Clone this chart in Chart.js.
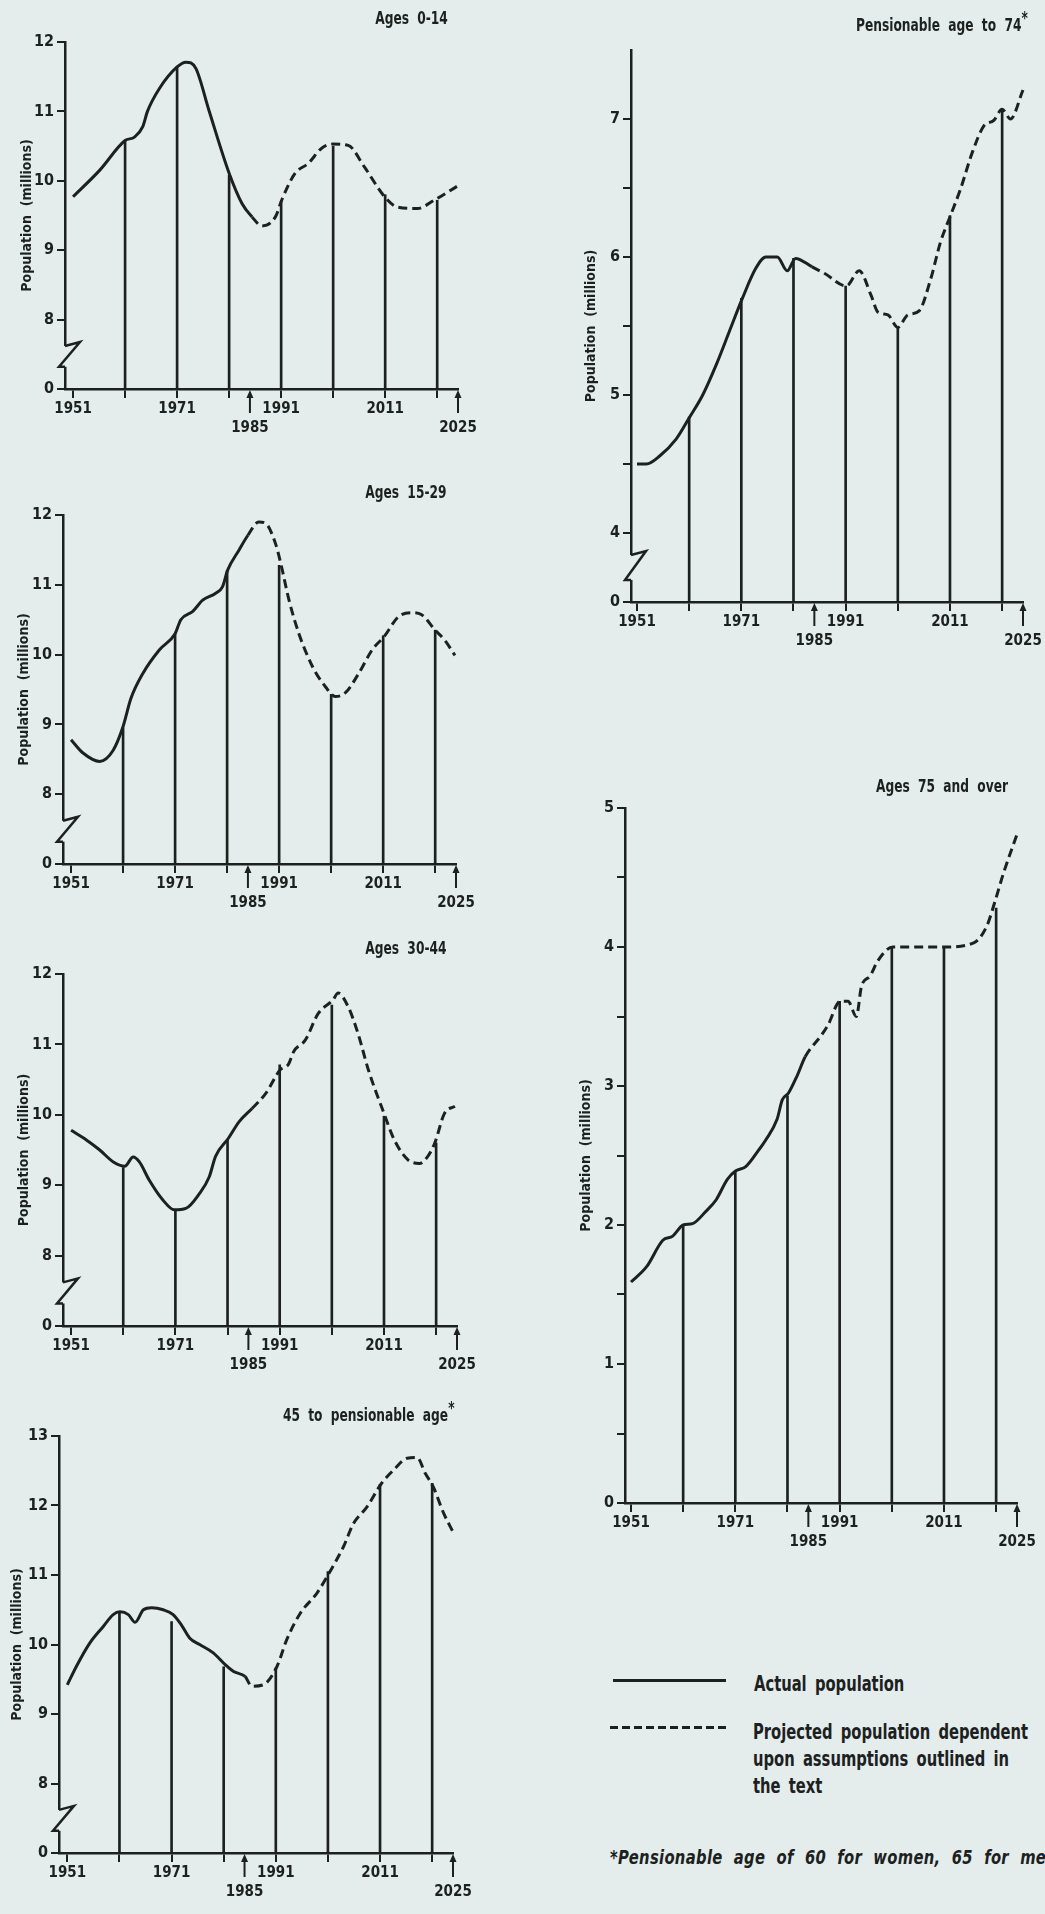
<!DOCTYPE html>
<html>
<head>
<meta charset="utf-8">
<script src="https://cdn.jsdelivr.net/npm/chart.js@4.4.1/dist/chart.umd.min.js"></script>
<style>
  html, body { margin: 0; padding: 0; }
  body {
    width: 1045px; height: 1914px; overflow: hidden; position: relative;
    background: #e4edeb; color: #1c211f;
    font-family: 'Liberation Sans Narrow', 'DejaVu Sans Condensed', 'Roboto Condensed', 'Liberation Sans', sans-serif;
    font-weight: bold;
  }
  canvas { position: absolute; }
  .ttl { position: absolute; font-size: 17px; line-height: 20px; word-spacing: 5px; white-space: nowrap; text-align: right; transform: scaleX(0.8); transform-origin: right center; }
  .ttl sup { font-size: 17px; line-height: 0; }
  .leg { position: absolute; font-size: 21px; line-height: 27px; word-spacing: 4px; white-space: nowrap; transform: scaleX(0.78); transform-origin: left center; }
  .note { position: absolute; font-size: 20px; line-height: 24px; font-style: italic; word-spacing: 7px; letter-spacing: 0.4px; white-space: nowrap; transform: scaleX(0.82); transform-origin: left center; }
</style>
</head>
<body>

<canvas id="p1" width="483" height="423" style="left:0px;top:22px"></canvas>
<canvas id="p2" width="481" height="425" style="left:0px;top:495px"></canvas>
<canvas id="p3" width="482" height="428" style="left:0px;top:954px"></canvas>
<canvas id="p4" width="478" height="493" style="left:0px;top:1416px"></canvas>
<canvas id="p5" width="488" height="628" style="left:560px;top:30px"></canvas>
<canvas id="p6" width="482" height="771" style="left:560px;top:788px"></canvas>

<div class="ttl" style="right:597px;top:8px">Ages 0-14</div>
<div class="ttl" style="right:598px;top:482px">Ages 15-29</div>
<div class="ttl" style="right:598px;top:938px">Ages 30-44</div>
<div class="ttl" style="right:590px;top:1405px">45 to pensionable age<sup>*</sup></div>
<div class="ttl" style="right:17px;top:15px">Pensionable age to 74<sup>*</sup></div>
<div class="ttl" style="right:37px;top:776px">Ages 75 and over</div>

<div style="position:absolute;left:613px;top:1679px;width:113px;height:3px;background:#1c211f"></div>
<div class="leg" style="left:754px;top:1671px">Actual population</div>
<div style="position:absolute;left:610px;top:1726px;width:116px;height:3px;background:repeating-linear-gradient(to right,#1c211f 0 8px,transparent 8px 12px)"></div>
<div class="leg" style="left:753px;top:1719px">Projected population dependent<br>upon assumptions outlined in<br>the text</div>
<div class="note" style="left:610px;top:1845px">*Pensionable age of 60 for women, 65 for men</div>

<script>
const ink = '#1c211f';
const paper = '#e4edeb';

// year axis
const xTickYears = [1951, 1961, 1971, 1981, 1985, 1991, 2001, 2011, 2021, 2025];
const labelYears = [1951, 1971, 1991, 2011];
const arrowYears = [1985, 2025];
const censusYears = [1961, 1971, 1981, 1991, 2001, 2011, 2021];
const projectedFrom = 1984.4; // dashed line after the 1985 base year

// Ages 0-14
const years0014 = [1951, 1956.1, 1961, 1962.8, 1964.4, 1965.3, 1967.6, 1971, 1972.7, 1974.6, 1977.1, 1981, 1983.5, 1985.4, 1987.3, 1989.9, 1991.1, 1993.7, 1996.2, 1998.8, 2001, 2003.9, 2007, 2010.9, 2013.4, 2017.2, 2020.4, 2024.8];
const pop0014 = [9.77, 10.15, 10.58, 10.63, 10.78, 11.0, 11.33, 11.64, 11.71, 11.62, 11.02, 10.11, 9.67, 9.48, 9.35, 9.48, 9.72, 10.11, 10.25, 10.47, 10.53, 10.51, 10.2, 9.77, 9.62, 9.6, 9.72, 9.92];
const census0014 = [10.58, 11.64, 10.08, 9.7, 10.5, 9.8, 9.72];

// Ages 15-29
const years1529 = [1951, 1953.3, 1956.5, 1959.1, 1961, 1962.5, 1964.8, 1968, 1971, 1972.1, 1974.4, 1976.3, 1978.8, 1980.1, 1981.1, 1983.3, 1985, 1987.1, 1988.4, 1990.3, 1991.3, 1992.9, 1994.8, 1997.4, 1999.9, 2001.8, 2003.7, 2006.3, 2008.9, 2011.2, 2013.9, 2016.5, 2018.4, 2021, 2022.8, 2024.8];
const pop1529 = [8.78, 8.59, 8.47, 8.63, 8.97, 9.37, 9.73, 10.07, 10.3, 10.5, 10.62, 10.78, 10.88, 10.97, 11.21, 11.5, 11.71, 11.9, 11.88, 11.59, 11.31, 10.78, 10.3, 9.83, 9.54, 9.4, 9.45, 9.73, 10.07, 10.26, 10.54, 10.6, 10.57, 10.35, 10.21, 9.99];
const census1529 = [8.95, 10.3, 11.2, 11.28, 9.43, 10.27, 10.35];

// Ages 30-44
const years3044 = [1951, 1954, 1956.5, 1959.1, 1961.3, 1962.9, 1964.1, 1966, 1968.6, 1970.8, 1973, 1975.6, 1977.5, 1978.7, 1981.2, 1983.2, 1985.7, 1988.3, 1991.1, 1992.7, 1993.7, 1995.9, 1998.4, 2001.2, 2002.2, 2004.1, 2006, 2008, 2011, 2013, 2015.6, 2017.8, 2019.4, 2020.7, 2022.6, 2024.6];
const pop3044 = [9.78, 9.64, 9.5, 9.33, 9.27, 9.4, 9.33, 9.07, 8.79, 8.65, 8.67, 8.88, 9.12, 9.41, 9.67, 9.9, 10.09, 10.3, 10.64, 10.72, 10.9, 11.06, 11.44, 11.63, 11.73, 11.54, 11.16, 10.64, 10.02, 9.64, 9.36, 9.31, 9.41, 9.59, 10.02, 10.12];
const census3044 = [9.25, 8.65, 9.65, 10.71, 11.56, 9.98, 9.6];

// 45 to pensionable age
const years45pa = [1951, 1952.7, 1955.3, 1957.9, 1959.8, 1961.1, 1962.7, 1964, 1965.6, 1967.2, 1969.4, 1971.3, 1972.9, 1974.5, 1976.4, 1979, 1981.3, 1982.9, 1985.1, 1986.4, 1988.6, 1991.2, 1993.1, 1995.7, 1998.9, 2001.4, 2004, 2005.9, 2008.5, 2011.3, 2013.6, 2016.2, 2018.1, 2019.7, 2021.2, 2023.2, 2025];
const pop45pa = [9.42, 9.68, 10.02, 10.26, 10.43, 10.47, 10.43, 10.32, 10.5, 10.53, 10.5, 10.43, 10.28, 10.09, 10.0, 9.88, 9.71, 9.61, 9.54, 9.4, 9.42, 9.68, 10.07, 10.45, 10.74, 11.05, 11.41, 11.74, 11.98, 12.32, 12.51, 12.68, 12.69, 12.46, 12.27, 11.89, 11.62];
const census45pa = [10.45, 10.33, 9.68, 9.66, 11.05, 12.3, 12.32];

// Pensionable age to 74
const yearsPa74 = [1951, 1952.8, 1955.4, 1958.5, 1961.1, 1963.6, 1966.2, 1968.7, 1971.2, 1973.8, 1975.7, 1977.9, 1979.8, 1981.4, 1984.5, 1987, 1991.1, 1993.6, 1995.9, 1997.2, 1999.1, 2001, 2002.9, 2005.1, 2007.3, 2009.2, 2011.1, 2013, 2015.3, 2017.5, 2019.4, 2021, 2022.6, 2025];
const popPa74 = [4.5, 4.5, 4.56, 4.68, 4.84, 5.0, 5.22, 5.46, 5.7, 5.92, 6.0, 6.0, 5.9, 5.99, 5.93, 5.88, 5.79, 5.9, 5.72, 5.6, 5.58, 5.49, 5.58, 5.61, 5.84, 6.11, 6.3, 6.49, 6.76, 6.95, 6.99, 7.07, 7.0, 7.21];
const censusPa74 = [4.84, 5.7, 5.99, 5.79, 5.49, 6.3, 7.07];

// Ages 75 and over
const years75 = [1951, 1954, 1957.1, 1959, 1961, 1962.8, 1965.4, 1967.3, 1969.5, 1971.1, 1973, 1975.5, 1976.8, 1979, 1980, 1981.2, 1982.8, 1984.4, 1987.6, 1988.8, 1991.1, 1992.6, 1994.2, 1995.2, 1996.8, 1998.3, 2001.2, 2011, 2016.7, 2019.2, 2020.8, 2022.4, 2025];
const pop75 = [1.59, 1.7, 1.89, 1.92, 2.0, 2.01, 2.1, 2.18, 2.33, 2.39, 2.42, 2.54, 2.61, 2.76, 2.9, 2.95, 3.07, 3.21, 3.37, 3.44, 3.61, 3.61, 3.5, 3.72, 3.79, 3.9, 4.0, 4.0, 4.03, 4.15, 4.33, 4.53, 4.81];
const census75 = [2.0, 2.39, 2.93, 3.61, 4.0, 4.0, 4.28];

// y ticks (the lowest tick of a broken axis is labelled 0)
const yTicksLeft = [7, 8, 9, 10, 11, 12];
const yTicksLeft45 = [7, 8, 9, 10, 11, 12, 13];
const yTicksPa74 = [3.5, 4, 4.5, 5, 5.5, 6, 6.5, 7];
const yTicks75 = [0, 0.5, 1, 1.5, 2, 2.5, 3, 3.5, 4, 4.5, 5];

const fontFamily = "'Liberation Sans Narrow', 'DejaVu Sans Condensed', 'Roboto Condensed', 'Liberation Sans', sans-serif";

// arrows under the x axis + broken y axis
const panelDecor = {
  id: 'panelDecor',
  afterDraw(chart, args, opts) {
    const ctx = chart.ctx;
    const x = chart.scales.x, y = chart.scales.y;
    const bottom = chart.chartArea.bottom;
    ctx.save();
    ctx.strokeStyle = ink;
    ctx.fillStyle = ink;
    ctx.lineWidth = 2;
    arrowYears.forEach(yr => {
      const px = x.getPixelForValue(yr);
      ctx.beginPath();
      ctx.moveTo(px, bottom + 24);
      ctx.lineTo(px, bottom + 6);
      ctx.stroke();
      ctx.beginPath();
      ctx.moveTo(px, bottom + 1);
      ctx.lineTo(px - 3.5, bottom + 9);
      ctx.lineTo(px + 3.5, bottom + 9);
      ctx.closePath();
      ctx.fill();
    });
    if (opts.brk) {
      const ax = chart.chartArea.left;
      const yHi = y.getPixelForValue(opts.brk[1]);
      const yLo = y.getPixelForValue(opts.brk[0]);
      ctx.fillStyle = paper;
      ctx.fillRect(ax - 3, yHi, 6, yLo - yHi);
      ctx.lineWidth = 2.5;
      ctx.beginPath();
      ctx.moveTo(ax, yHi);
      ctx.lineTo(ax + 15, yHi - 4);
      ctx.lineTo(ax - 6, yLo);
      ctx.lineTo(ax, yLo);
      ctx.stroke();
    }
    ctx.restore();
  }
};

function makePanel(id, p) {
  const pts = p.years.map((yr, i) => ({ x: yr, y: p.pop[i] }));
  const bars = censusYears.map((yr, i) => ({ x: yr, y: p.census[i] }));
  const yMin = p.yTicks[0];
  new Chart(document.getElementById(id), {
    type: 'line',
    data: {
      datasets: [
        {
          type: 'line',
          data: pts,
          borderColor: ink,
          borderWidth: 3,
          pointRadius: 0,
          cubicInterpolationMode: 'monotone',
          clip: false,
          segment: {
            borderDash: c => c.p0.parsed.x >= projectedFrom ? [9, 5] : undefined
          },
          order: 0
        },
        {
          type: 'bar',
          data: bars,
          base: yMin,
          barThickness: 2,
          backgroundColor: ink,
          order: 1
        }
      ]
    },
    options: {
      responsive: false,
      animation: false,
      events: [],
      layout: { padding: { top: 20, right: 25, left: 0, bottom: 0 } },
      plugins: {
        legend: { display: false },
        tooltip: { enabled: false },
        panelDecor: { brk: p.brk }
      },
      scales: {
        x: {
          type: 'linear',
          min: p.xMin,
          max: 2025,
          offset: false,
          afterBuildTicks: s => { s.ticks = xTickYears.map(v => ({ value: v })); },
          afterFit: s => { s.height = 56; },
          border: { display: true, color: ink, width: 2.5 },
          grid: {
            offset: false,
            drawOnChartArea: false,
            drawTicks: true,
            tickLength: 9,
            lineWidth: 2,
            color: c => (c.tick && arrowYears.includes(c.tick.value)) ? 'rgba(0,0,0,0)' : ink
          },
          ticks: {
            autoSkip: false,
            maxRotation: 0,
            padding: 2,
            color: ink,
            font: { family: fontFamily, size: 15, weight: 'bold', lineHeight: 1.25 },
            callback: v => labelYears.includes(v) ? String(v) : (arrowYears.includes(v) ? ['', String(v)] : '')
          }
        },
        y: {
          type: 'linear',
          min: yMin,
          max: p.yMax,
          afterBuildTicks: s => { s.ticks = p.yTicks.map(v => ({ value: v })); },
          afterFit: s => { s.width = p.yw; },
          border: { display: true, color: ink, width: 2.5 },
          grid: { drawOnChartArea: false, drawTicks: true, tickLength: 8, lineWidth: 2, color: ink },
          ticks: {
            padding: 3,
            color: ink,
            font: { family: fontFamily, size: 16, weight: 'bold' },
            callback: v => v === yMin ? '0' : (Number.isInteger(v) ? String(v) : '')
          },
          title: {
            display: true,
            text: 'Population  (millions)',
            color: ink,
            font: { family: fontFamily, size: 14, weight: 'bold', lineHeight: 1.2 },
            padding: { top: p.titlePad, bottom: 0 }
          }
        }
      }
    },
    plugins: [panelDecor]
  });
}

makePanel('p1', { years: years0014, pop: pop0014, census: census0014, yTicks: yTicksLeft, yMax: 12, xMin: 1949.45, yw: 65, titlePad: 19, brk: [7.32, 7.62] });
makePanel('p2', { years: years1529, pop: pop1529, census: census1529, yTicks: yTicksLeft, yMax: 12, xMin: 1949.45, yw: 63, titlePad: 16, brk: [7.32, 7.62] });
makePanel('p3', { years: years3044, pop: pop3044, census: census3044, yTicks: yTicksLeft, yMax: 12, xMin: 1949.45, yw: 63, titlePad: 16, brk: [7.32, 7.62] });
makePanel('p4', { years: years45pa, pop: pop45pa, census: census45pa, yTicks: yTicksLeft45, yMax: 13, xMin: 1949.4, yw: 59, titlePad: 9, brk: [7.32, 7.62] });
makePanel('p5', { years: yearsPa74, pop: popPa74, census: censusPa74, yTicks: yTicksPa74, yMax: 7.5, xMin: 1949.85, yw: 71, titlePad: 23, brk: [3.66, 3.84] });
makePanel('p6', { years: years75, pop: pop75, census: census75, yTicks: yTicks75, yMax: 5, xMin: 1949.85, yw: 65, titlePad: 18, brk: null });
</script>
</body>
</html>
